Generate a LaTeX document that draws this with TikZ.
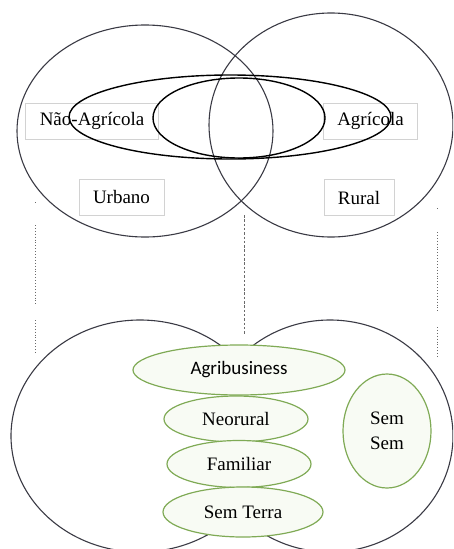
\documentclass[tikz,border=0pt]{standalone}
\usepackage{fontspec}
\setmainfont{Liberation Serif}
\newfontfamily\calibrifont{Carlito}
\usetikzlibrary{shapes.geometric}

\definecolor{ringgrey}{HTML}{3A3A44}
\definecolor{tagline}{HTML}{D2D2D2}
\definecolor{leafgreen}{HTML}{7FAA55}
\definecolor{leaffill}{HTML}{F8FBF4}
\definecolor{guidegrey}{HTML}{6A6A6A}

\begin{document}
\begin{tikzpicture}[
        x=1pt, y=-1pt,
        every node/.style={inner sep=0pt, font=\fontsize{19}{25}\selectfont},
        ring/.style={ellipse, draw=ringgrey, line width=1.1pt},
        band/.style={ellipse, draw=black, line width=1.4pt},
        tag/.style={rectangle, draw=tagline, fill=white, line width=0.6pt, inner xsep=14pt, minimum height=36pt},
        sector/.style={ellipse, draw=leafgreen, fill=leaffill, line width=1.2pt, align=center},
        guide/.style={draw=guidegrey, line width=0.9pt, dotted},
    ]
    \useasboundingbox (0,0) rectangle (453,549);
    \clip (0,0) rectangle (453,549);

    % === URBANO / RURAL ===
    \node[ring, minimum width=256pt, minimum height=212pt] (urb) at (145,131) {};
    \node[ring, minimum width=244pt, minimum height=224pt] (rur) at (331,125) {};

    \node[tag] (nagr) at (92,121) {Não-Agrícola};
    \node[tag] (agr) at (370.5,121) {Agrícola};
    \node[tag] (urbt) at (121.5,197) {Urbano};
    \node[tag] (rurt) at (359,197.5) {Rural};

    \node[band, minimum width=322pt, minimum height=84pt] (outer) at (230,117) {};
    \node[band, minimum width=172pt, minimum height=80pt] (inner) at (239,118) {};

    % === GUIDES ===
    \draw[guide] (35,202) -- (35,204);
    \draw[guide] (35,225) -- (35,305);
    \draw[guide] (35,320) -- (35,352);
    \draw[guide] (437,208) -- (437,210);
    \draw[guide] (437,232) -- (437,312);
    \draw[guide] (437,327) -- (437,357);
    \draw[draw=guidegrey, line width=0.8pt, dash pattern=on 2.5pt off 1.8pt] (244,215) -- (244,335);

    % === SUJEITOS ===
    \node[ring, minimum width=258pt, minimum height=232pt] (left) at (140,436) {};
    \node[ring, minimum width=246pt, minimum height=232pt] (right) at (330,436) {};
    % hide the inner arcs behind the column
    \fill[white] (200,360) rectangle (282,530);

    \node[sector, minimum width=212pt, minimum height=50pt, font=\calibrifont\fontsize{19}{25}\selectfont] (agri) at (239,370) {Agribusiness};
    \node[sector, minimum width=144pt, minimum height=46pt] (neo) at (236,419) {Neorural};
    \node[sector, minimum width=144pt, minimum height=47pt] (fam) at (239,464) {Familiar};
    \node[sector, minimum width=160pt, minimum height=50pt] (semt) at (243,512) {Sem Terra};
    \node[sector, minimum width=88pt, minimum height=114pt] (sems) at (387,431) {Sem\\Sem};

\end{tikzpicture}
\end{document}
